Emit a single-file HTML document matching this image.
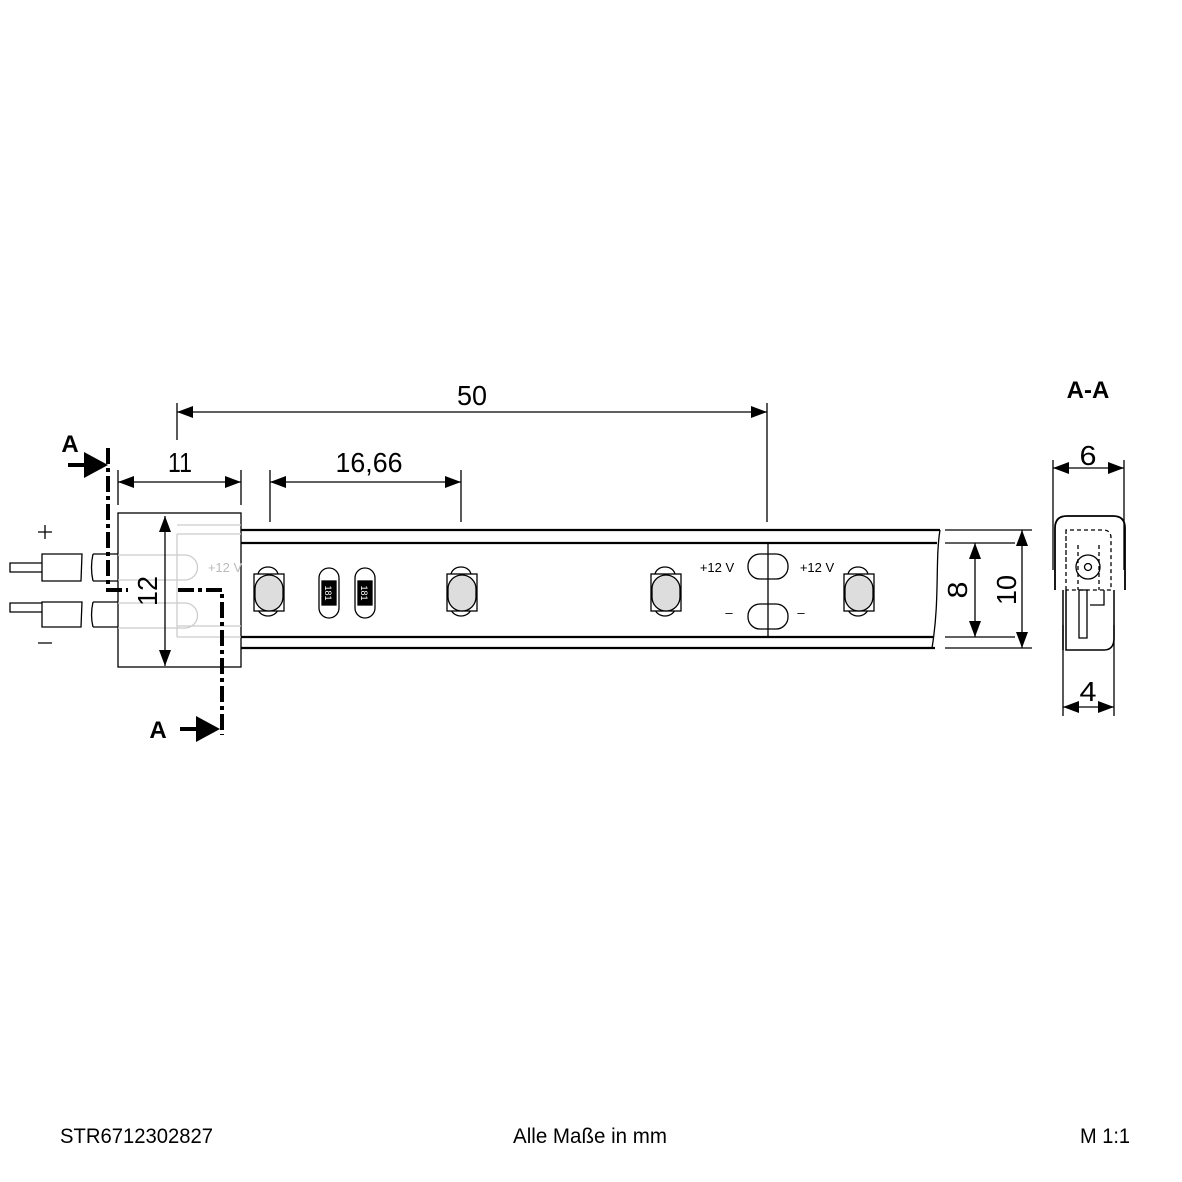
<!DOCTYPE html>
<html><head><meta charset="utf-8"><style>body{margin:0;background:#fff}svg{display:block}</style></head><body>
<svg width="1182" height="1182" viewBox="0 0 1182 1182" xmlns="http://www.w3.org/2000/svg" font-family="Liberation Sans, sans-serif">
<g stroke="#000" fill="none" stroke-width="1.3">
<!-- strip -->
<path d="M241,530H940M241,543H937M241,637H933M241,648H935" stroke-width="2.2"/>
<path d="M940,530C935,560 940,600 932,648" stroke-width="1.3"/>
<!-- connector -->
<rect x="118" y="513" width="123" height="154" fill="#fff"/>
<g stroke="#ccc"><path d="M177,525H241M177,534H241M177,626H241M177,637H241M177,534V637M118,555H185M118,580H185M118,603H185M118,628H185M185,555a12,12 0 0 1 0,25M185,603a12,12 0 0 1 0,25"/></g>
<!-- wires -->
<path d="M10,563H42V572H10zM42,554H82L81,581H42zM93,554H118M93,581H118M93,554C91,563 91,572 93,581"/>
<path d="M10,603H42V612H10zM42,602H82L81,627H42zM93,602H118M93,627H118M93,602C91,611 91,619 93,627"/>
<path d="M38,532H52M45,525V539M38,643H52"/>
<!-- LEDs -->
<g id="led"><path d="M258,575a10,8 0 0 1 20,0M258,608a10,8 0 0 0 20,0"/><rect x="254" y="574" width="30" height="37" fill="#fff"/><rect x="255" y="575" width="28" height="36" rx="14" fill="#ddd"/></g>
<use href="#led" x="193"/><use href="#led" x="397"/><use href="#led" x="590"/>
<rect x="319" y="568" width="20" height="50" rx="10"/><rect x="355" y="568" width="20" height="50" rx="10"/>
<rect x="322" y="581" width="14" height="24" fill="#000"/><rect x="358" y="581" width="14" height="24" fill="#000"/>
<!-- pads -->
<path d="M768,543V637"/>
<rect x="748" y="554" width="40" height="25" rx="12"/><rect x="748" y="604" width="40" height="25" rx="12"/>
<!-- dims -->
<path d="M177,403V440M767,403V522M118,470V505M241,470V505M270,470V522M461,470V522M945,530H1032M945,543H1015M945,637H1015M945,648H1032"/>
<path d="M177,412H767M118,482H241M270,482H461M165,516V666M975,543V637M1022,530V648M1053,468H1124M1063,707H1114"/>
<path d="M1053,460V570M1124,460V570M1063,625V716M1114,625V716"/>
<!-- section view -->
<path d="M1055,590V528q0-12 12-12H1113q12,0 12,12V590" stroke-width="1.8"/>
<path d="M1063,590V650M1066,590V650H1104q10,0 10-12V590" stroke-width="1.5"/>
<path d="M1066,568V530H1103q8,0 8,8V590H1066M1066,530V590" stroke-dasharray="4,3"/>
<path d="M1078,545V590M1099,545V590" stroke-dasharray="4,3"/>
<circle cx="1088" cy="567" r="12"/><circle cx="1088" cy="567" r="3.5"/>
<path d="M1079,590H1087V638H1079zM1090,605H1104V590"/>
<!-- section line -->
<path d="M108,448V590H128" stroke-width="4" stroke-dasharray="16,4,4,4"/>
<path d="M178,590H222V735" stroke-width="4" stroke-dasharray="16,4,4,4"/>
<path d="M68,465H86M180,729H198" stroke-width="4"/>
</g>
<g fill="#000">
<path d="M84,452L108,465L84,478z"/><path d="M196,716L220,729L196,742z"/>
<path d="M177,412l16,-6v12zM767,412l-16,-6v12z"/>
<path d="M118,482l16,-6v12zM241,482l-16,-6v12z"/>
<path d="M270,482l16,-6v12zM461,482l-16,-6v12z"/>
<path d="M165,516l-6,16h12zM165,666l-6,-16h12z"/>
<path d="M975,543l-6,16h12zM975,637l-6,-16h12z"/>
<path d="M1022,530l-6,16h12zM1022,648l-6,-16h12z"/>
<path d="M1053,468l16,-6v12zM1124,468l-16,-6v12z"/>
<path d="M1063,707l16,-6v12zM1114,707l-16,-6v12z"/>
</g>
<g font-size="28" text-anchor="middle">
<text x="472" y="405" textLength="30" lengthAdjust="spacingAndGlyphs">50</text>
<text x="180" y="472" textLength="24" lengthAdjust="spacingAndGlyphs">11</text>
<text x="369" y="472" textLength="67" lengthAdjust="spacingAndGlyphs">16,66</text>
<text x="1088" y="465" textLength="17" lengthAdjust="spacingAndGlyphs">6</text>
<text x="1088" y="701" textLength="17" lengthAdjust="spacingAndGlyphs">4</text>
<text transform="translate(157,591) rotate(-90)" textLength="30" lengthAdjust="spacingAndGlyphs">12</text>
<text transform="translate(967,590) rotate(-90)" textLength="17" lengthAdjust="spacingAndGlyphs">8</text>
<text transform="translate(1016,590) rotate(-90)" textLength="30" lengthAdjust="spacingAndGlyphs">10</text>
</g>
<g font-size="24" font-weight="bold" text-anchor="middle"><text x="70" y="452">A</text><text x="158" y="738">A</text><text x="1088" y="398">A-A</text></g>
<g font-size="13" text-anchor="middle"><text x="717" y="572">+12 V</text><text x="817" y="572">+12 V</text><text x="729" y="617">–</text><text x="801" y="617">–</text><text x="225" y="572" fill="#bbb">+12 V</text></g>
<g font-size="9" fill="#fff" text-anchor="middle"><text transform="translate(325,593) rotate(90)">181</text><text transform="translate(361,593) rotate(90)">181</text></g>
<g font-size="21"><text x="60" y="1143" textLength="153" lengthAdjust="spacingAndGlyphs">STR6712302827</text><text x="513" y="1143" textLength="154" lengthAdjust="spacingAndGlyphs">Alle Maße in mm</text><text x="1080" y="1143" textLength="50" lengthAdjust="spacingAndGlyphs">M 1:1</text></g>
</svg>
</body></html>
